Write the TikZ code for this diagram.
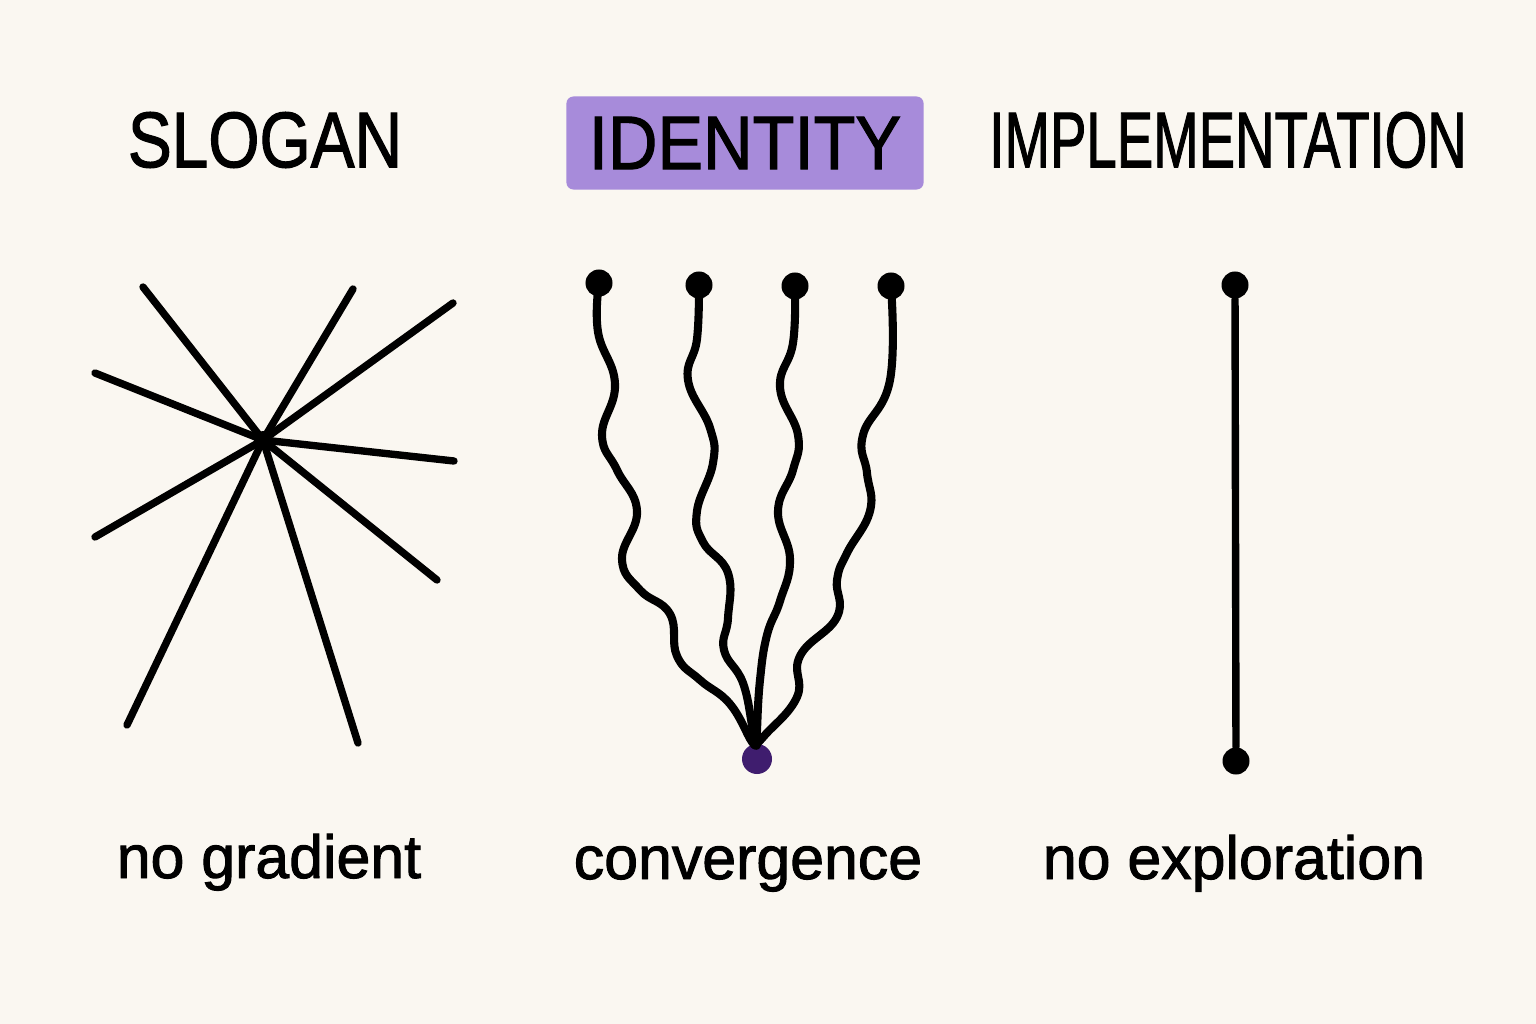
\documentclass[tikz,border=0pt]{standalone}
\usepackage{fontspec}
\setmainfont{Liberation Sans}
\newfontfamily\handfont{Liberation Sans}[FakeBold=1.6]
\usepackage{graphicx}
\usepackage{xcolor}

\definecolor{paper}{HTML}{FAF7F1}
\definecolor{lilac}{HTML}{A78BDA}
\definecolor{plum}{HTML}{3F1D6E}

\begin{document}
\begin{tikzpicture}[x=0.01cm, y=-0.01cm,
  ink/.style={line width=2.1pt, line cap=round, line join=round},
  wire/.style={ink, line width=2.3pt},
  dot/.style={circle, fill=black, inner sep=0pt, minimum size=0.27cm},
  title/.style={inner sep=0pt, font=\handfont},
  caption/.style={anchor=base, inner sep=0pt, font=\fontsize{17.3}{20}\handfont}]
\fill[paper] (0,0) rectangle (1536,1024);
% headings
\node[title] (slogan) at (265,140) {\resizebox{2.74cm}{0.55cm}{SLOGAN}};
\node[title, fill=lilac, rounded corners=2pt, minimum width=3.57cm, minimum height=0.93cm] (identity) at (745,143) {\resizebox{3.12cm}{0.52cm}{IDENTITY}};
\node[title] (impl) at (1228,140) {\resizebox{4.77cm}{0.55cm}{IMPLEMENTATION}};
% slogan: rays from one point
\node[circle, fill=black, inner sep=0pt, minimum size=0.18cm] (hub) at (263,440) {};
\coordinate (r1) at (143,287);
\coordinate (r2) at (353,289);
\coordinate (r3) at (453,303);
\coordinate (r4) at (95,373);
\coordinate (r5) at (454,461);
\coordinate (r6) at (95,537);
\coordinate (r7) at (437,580);
\coordinate (r8) at (127,725);
\coordinate (r9) at (358,743);
\draw[ink] (hub.center) -- (r1);
\draw[ink] (hub.center) -- (r2);
\draw[ink] (hub.center) -- (r3);
\draw[ink] (hub.center) -- (r4);
\draw[ink] (hub.center) -- (r5);
\draw[ink] (hub.center) -- (r6);
\draw[ink] (hub.center) -- (r7);
\draw[ink] (hub.center) -- (r8);
\draw[ink] (hub.center) -- (r9);
% identity: four paths meeting
\node[dot] (t1) at (599,283) {};
\node[dot] (t2) at (699,285) {};
\node[dot] (t3) at (795,286) {};
\node[dot] (t4) at (891,286) {};
\node[circle, fill=plum, inner sep=0pt, minimum size=0.30cm] (conv) at (757,759) {};
\draw[wire] plot[smooth, tension=0.75] coordinates {(t1.center) (598,332) (615,384) (602,435) (617,470) (637,511) (622,559) (640,590) (670,614) (677,656) (700,680) (730,704) (752,742) (conv.north)};
\draw[wire] plot[smooth, tension=0.75] coordinates {(t2.center) (697,339) (688,380) (710,428) (713,463) (697,511) (703,542) (728,573) (728,618) (724,650) (743,683) (753,730) (conv.north)};
\draw[wire] plot[smooth, tension=0.75] coordinates {(t3.center) (793,343) (780,387) (798,435) (793,470) (778,511) (790,559) (780,601) (767,635) (760,680) (757,730) (conv.north)};
\draw[wire] plot[smooth, tension=0.75] coordinates {(t4.center) (890,380) (863,435) (867,473) (870,511) (847,553) (837,580) (837,617) (800,656) (797,697) (765,735) (conv.north)};
% implementation: one straight line
\node[dot] (top) at (1235,285) {};
\node[dot] (bottom) at (1236,761) {};
\draw[ink] (top) -- (bottom);
% captions
\node[caption] (grad) at (269,878) {no gradient};
\node[caption] (conv-label) at (748,879) {convergence};
\node[caption] (expl) at (1234,879) {no exploration};
\end{tikzpicture}
\end{document}
